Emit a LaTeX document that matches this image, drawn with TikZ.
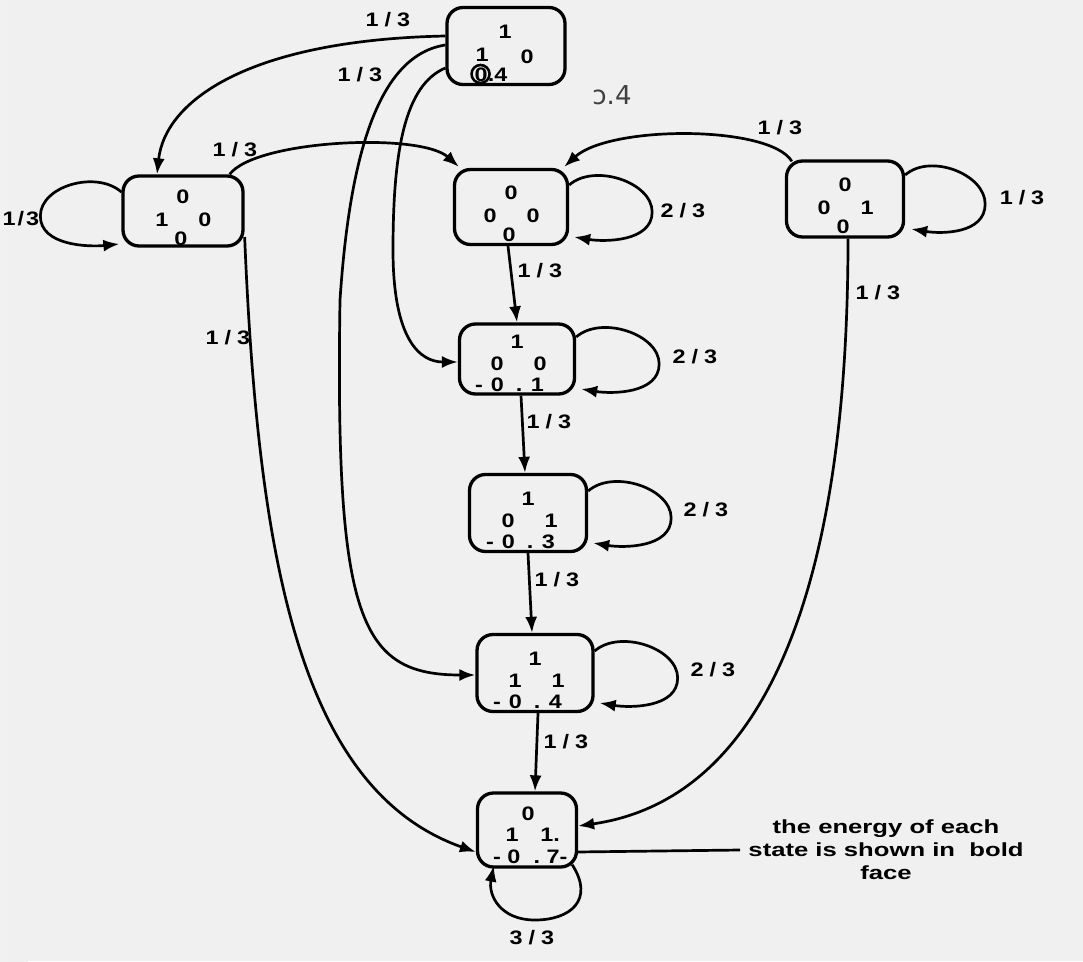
\documentclass[tikz,border=0pt]{standalone}
\usepackage{fontspec}
\setmainfont{Liberation Sans}[FakeStretch=1.2]
\newfontfamily\notefont{Liberation Sans}[FakeStretch=1.35]
\newfontfamily\handfont{DejaVu Sans}
\usetikzlibrary{arrows.meta,calc}
\newcommand{\fr}[2]{#1\hspace{6pt}/\hspace{6pt}#2}
\newcommand{\statecells}[5]{%
  \node[cell] (#1t) at ($(#1)+(0,-14)$) {#2};
  \node[cell] (#1l) at ($(#1)+(-21,9)$) {#3};
  \node[cell] (#1r) at ($(#1)+(22,9)$) {#4};
  \node[cell] (#1b) at ($(#1)+(-2,28)$) {#5};}
\newcommand{\energy}[3]{%
  \node[cell,anchor=west] (#1e) at ($(#1)+(-42,#3)$) {-\hspace{8pt}0\hspace{12pt}.\hspace{8.5pt}#2};}
\begin{document}
\begin{tikzpicture}[x=1pt,y=-1pt,
  state/.style={draw,line width=3.3pt,rounded corners=16pt,inner sep=0pt},
  cell/.style={inner sep=0pt,font=\fontsize{19.5}{21}\selectfont\bfseries},
  lab/.style={inner sep=0pt,font=\fontsize{19.5}{21}\selectfont\bfseries},
  note/.style={inner sep=0pt,align=center,font=\notefont\fontsize{19}{23}\selectfont\bfseries},
  arr/.style={line width=2.7pt,-{Latex[length=16pt,width=12pt]}},
  plain/.style={line width=2.7pt}]
\fill[black!6] (0,0) rectangle (1083,961);
\shade[left color=red!12!black!6,right color=black!6] (0,0) rectangle (28,961);
\useasboundingbox (0,0) rectangle (1083,961);

% states
\node[state,minimum width=118,minimum height=77] (T)  at (506,46)  {};
\node[state,minimum width=120,minimum height=70] (L)  at (183,211) {};
\node[state,minimum width=113,minimum height=75] (M0) at (511,207) {};
\node[state,minimum width=117,minimum height=76] (R)  at (845,199) {};
\node[state,minimum width=115,minimum height=70] (N1) at (517,359) {};
\node[state,minimum width=117,minimum height=77] (N2) at (528,513) {};
\node[state,minimum width=116,minimum height=77] (N3) at (535,673) {};
\node[state,minimum width=99,minimum height=74]  (N4) at (527,830) {};

% contents
\node[cell] (Tt) at ($(T)+(-1,-14)$) {1};
\node[cell] (Tl) at ($(T)+(-24,9)$) {1};
\node[cell] (Tr) at ($(T)+(21,11)$) {0};
\node[cell] (Tb) at ($(T)+(-15,29)$) {0.4};
\draw[line width=2.6pt] ($(Tb.west)+(6,-1)$) circle (9pt);
\statecells{L}{0}{1}{0}{0}
\statecells{M0}{0}{0}{0}{0}
\statecells{R}{0}{0}{1}{0}
\node[cell] (N1t) at ($(N1)+(0,-17)$) {1};
\node[cell] (N1l) at ($(N1)+(-20,5)$) {0};
\node[cell] (N1r) at ($(N1)+(23,5)$) {0};
\energy{N1}{1}{26}
\node[cell] (N2t) at ($(N2)+(0,-14)$) {1};
\node[cell] (N2l) at ($(N2)+(-20,8)$) {0};
\node[cell] (N2r) at ($(N2)+(23,8)$) {1};
\energy{N2}{3}{29}
\node[cell] (N3t) at ($(N3)+(0,-14)$) {1};
\node[cell] (N3l) at ($(N3)+(-20,8)$) {1};
\node[cell] (N3r) at ($(N3)+(23,8)$) {1};
\energy{N3}{4}{29}
\node[cell] (N4t) at ($(N4)+(1,-16)$) {0};
\node[cell] (N4l) at ($(N4)+(-15,5)$) {1};
\node[cell] (N4r) at ($(N4)+(23,5)$) {1.};
\node[cell,anchor=west] (N4e) at ($(N4)+(-34,27)$) {-\hspace{6.5pt}0\hspace{13pt}.\hspace{6.5pt}7-};

\node[font=\handfont\fontsize{26}{28}\selectfont,text=black!75,inner sep=0pt] (hw) at (612,95) {ɔ.4};

% edges from top state
\draw[arr] ($(T.west)+(0,-10)$) .. controls (250,40) and (165,100) .. ($(L.north)+(-26,0)$);
\draw[arr] ($(T.west)+(0,-1)$) .. controls (380,55) and (350,150) .. (340,300)
           .. controls (335,620) and (360,675) .. ($(N3.west)+(0,2)$);
\draw[arr] ($(T.west)+(0,22)$) .. controls (405,85) and (393,150) .. (393,250)
           .. controls (393,340) and (420,362) .. ($(N1.west)+(0,3)$);
\node[lab] (lTL) at (388,20) {\fr13};
\node[lab] (lTN3) at (360,75) {\fr13};

% left state
\draw[arr] ($(L.west)+(0,-19)$) .. controls +(-25,-22) and +(0,-30) .. ($(L.west)+(-81,5)$)
           .. controls +(0,30) and +(-30,3) .. ($(L.west)+(-2,33)$);
\node[lab] (lLL) at (21,219) {1\hspace{2pt}/\hspace{2pt}3};
\draw[arr] ($(L.north east)+(-15,0)$) .. controls (255,140) and (420,132) .. ($(M0.north west)+(6,-1)$);
\node[lab] (lLM) at (235,150) {\fr13};
\draw[arr] ($(L.east)+(0,26)$) .. controls (258,560) and (300,790) .. ($(N4.west)+(0,22)$);
\node[lab] (lLN) at (228,338) {\fr13};

% right state
\draw[arr] ($(R.east)+(0,-24)$) .. controls +(25,-22) and +(0,-30) .. ($(R.east)+(80,5)$)
           .. controls +(0,30) and +(30,5) .. ($(R.east)+(6,30)$);
\node[lab] (lRR) at (1022,198) {\fr13};
\draw[arr] ($(R.north west)+(7,2)$) .. controls (770,125) and (610,125) .. ($(M0.north east)+(-5,-1)$);
\node[lab] (lRM) at (780,128) {\fr13};
\draw[arr] ($(R.south)+(3,0)$) .. controls (848,600) and (760,800) .. ($(N4.east)+(0,-4)$);
\node[lab] (lRN) at (878,293) {\fr13};

% middle column loops
\foreach \n/\lx/\ly in {M0/683/211, N1/695/357, N2/706/510, N3/713/670}{
  \draw[arr] ($(\n.east)+(0,-22)$) .. controls +(25,-22) and +(0,-30) .. ($(\n.east)+(83,5)$)
             .. controls +(0,30) and +(30,5) .. ($(\n.east)+(5,30)$);
  \node[lab] (l\n) at (\lx,\ly) {\fr23};
}

% vertical chain
\draw[arr] ($(M0.south)+(-3,0)$) -- ($(N1.north)+(0,0)$);
\draw[arr] ($(N1.south)+(4,0)$) -- ($(N2.north)+(-3,0)$);
\draw[arr] ($(N2.south)+(0,0)$) -- ($(N3.north)+(-3,0)$);
\draw[arr] ($(N3.south)+(3,0)$) -- ($(N4.north)+(8,0)$);
\node[lab] (lv1) at (540,271) {\fr13};
\node[lab] (lv2) at (549,422) {\fr13};
\node[lab] (lv3) at (557,580) {\fr13};
\node[lab] (lv4) at (566,742) {\fr13};

% bottom loop
\draw[arr] ($(N4.south east)+(-6,-4)$) .. controls (595,900) and (570,920) .. (535,920)
           .. controls (500,920) and (488,895) .. ($(N4.south west)+(18,-3)$);
\node[lab] (lN4) at (532,938) {\fr33};

% annotation
\coordinate (annEnd) at (740,850);
\draw[plain] ($(N4.east)+(-2,22)$) -- (annEnd);
\node[note] (note) at (886,850) {the energy of each\\state is shown in\ \ bold\\face};
\end{tikzpicture}
\end{document}
